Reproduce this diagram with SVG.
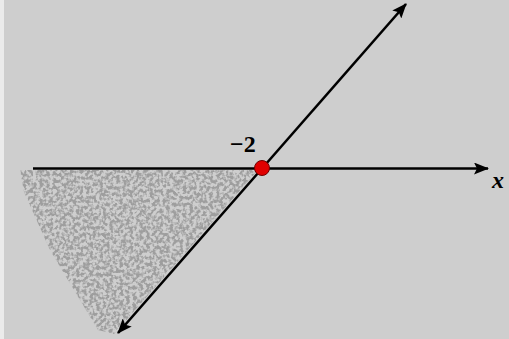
<svg xmlns="http://www.w3.org/2000/svg" width="509" height="339" viewBox="0 0 509 339">
<style>
.ax{stroke:#000;stroke-width:2.6;fill:none}
.lbl{font-family:"Liberation Serif","DejaVu Serif",serif;font-weight:bold;font-size:24px;fill:#000}
</style>
<defs>
<marker id="ah" markerWidth="16" markerHeight="12" refX="14" refY="6" orient="auto" markerUnits="userSpaceOnUse">
<path d="M0,0 L15,6 L0,12 L3,6 Z" fill="#000"/>
</marker>
<filter id="speck" x="0" y="0" width="1" height="1" filterUnits="objectBoundingBox" color-interpolation-filters="sRGB">
<feTurbulence type="fractalNoise" baseFrequency="0.3" numOctaves="2" seed="7" result="n"/>
<feColorMatrix in="n" type="matrix" values="0 0 0 0 0.62  0 0 0 0 0.62  0 0 0 0 0.62  0 0 0 4.5 -1.8" result="c"/>
<feGaussianBlur in="c" stdDeviation="0.5" result="b"/>
<feComposite in="b" in2="SourceGraphic" operator="in"/>
</filter>
</defs>
<rect x="0" y="0" width="509" height="339" fill="#cecece"/>
<rect x="0" y="0" width="4" height="339" fill="#ebebeb"/>
<g id="region">
<polygon points="20,170 258,170 114,334 98,330 80,300 50,250 24,192" fill="#000" filter="url(#speck)"/>
</g>
<g id="connectors">
<line class="ax" x1="33" y1="168.5" x2="488" y2="168.5" marker-end="url(#ah)"/>
<line class="ax" x1="262" y1="168.5" x2="406" y2="4" marker-end="url(#ah)"/>
<line class="ax" x1="262" y1="168.5" x2="118" y2="333" marker-end="url(#ah)"/>
</g>
<g id="point">
<circle cx="262" cy="168" r="7.5" fill="#e00000" stroke="#700000" stroke-width="1"/>
<text class="lbl" x="230" y="152">−2</text>
</g>
<g id="xlabel">
<text class="lbl" x="492" y="188" font-style="italic">x</text>
</g>
</svg>
